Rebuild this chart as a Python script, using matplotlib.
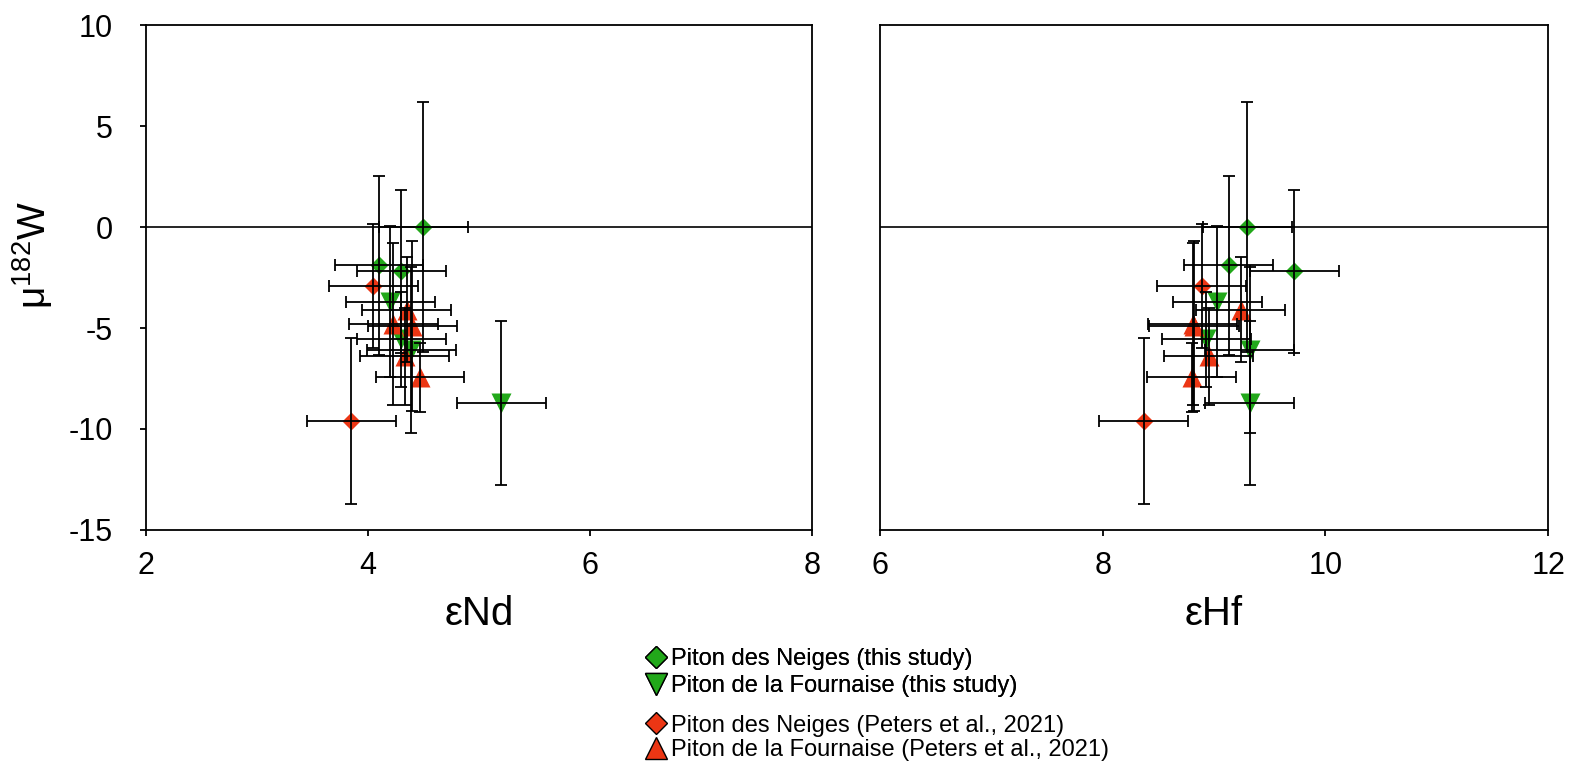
import numpy as np
import matplotlib
matplotlib.use("Agg")
import matplotlib.pyplot as plt
from matplotlib.lines import Line2D

plt.rcParams['font.family'] = ['Liberation Sans', 'DejaVu Sans']
plt.rcParams['axes.unicode_minus'] = False

# Piton des Neiges (this study)
pdn_end = [4.5, 4.1, 4.3]
pdn_ehf = [9.3, 9.13, 9.72]
pdn_w = [0.0, -1.9, -2.2]
pdn_werr = [6.2, 4.45, 4.05]
pdn_xerr = [0.4, 0.4, 0.4]

# Piton de la Fournaise (this study)
pdf_end = [4.2, 4.3, 4.39, 5.2]
pdf_ehf = [9.03, 8.93, 9.32, 9.32]
pdf_w = [-3.7, -5.55, -6.1, -8.7]
pdf_werr = [3.75, 2.35, 4.1, 4.05]
pdf_xerr = [0.4, 0.4, 0.4, 0.4]

# Piton des Neiges (Peters et al., 2021)
ppdn_end = [4.05, 3.85]
ppdn_ehf = [8.89, 8.37]
ppdn_w = [-2.92, -9.6]
ppdn_werr = [3.05, 4.1]
ppdn_xerr = [0.4, 0.4]

# Piton de la Fournaise (Peters et al., 2021)
ppdf_end = [4.35, 4.23, 4.40, 4.33, 4.47]
ppdf_ehf = [9.24, 8.81, 8.82, 8.95, 8.80]
ppdf_w = [-4.1, -4.8, -4.9, -6.4, -7.45]
ppdf_werr = [2.6, 4.0, 4.2, 2.4, 1.7]
ppdf_xerr = [0.4, 0.4, 0.4, 0.4, 0.4]

green = '#22a81a'
red = '#ec3614'

groups = [
    (pdn_end, pdn_ehf, pdn_w, pdn_werr, pdn_xerr, 'D', green, 9, 'Piton des Neiges (this study)'),
    (pdf_end, pdf_ehf, pdf_w, pdf_werr, pdf_xerr, 'v', green, 14, 'Piton de la Fournaise (this study)'),
    (ppdn_end, ppdn_ehf, ppdn_w, ppdn_werr, ppdn_xerr, 'D', red, 9, 'Piton des Neiges (Peters et al., 2021)'),
    (ppdf_end, ppdf_ehf, ppdf_w, ppdf_werr, ppdf_xerr, '^', red, 14, 'Piton de la Fournaise (Peters et al., 2021)'),
]

fig = plt.figure(figsize=(15.71, 7.70), dpi=100)
ax1 = fig.add_axes([0.0929, 0.3117, 0.4239, 0.6558])
ax2 = fig.add_axes([0.5602, 0.3117, 0.4252, 0.6558])

for ax, xi, xlim, xlabel in [(ax1, 0, (2, 8), 'εNd'), (ax2, 1, (6, 12), 'εHf')]:
    ax.axhline(0, color='black', lw=1.2, zorder=1)
    for g in groups:
        x = g[xi]
        ax.plot(x, g[2], ls='none', marker=g[5], color=g[6], ms=g[7], mec='none', zorder=2)
        ax.errorbar(x, g[2], xerr=g[4], yerr=g[3], fmt='none', ecolor='black',
                    elinewidth=1.3, capsize=4, capthick=1.3, zorder=3)
    ax.set_xlim(*xlim)
    ax.set_ylim(-15, 10)
    ax.set_xticks(np.arange(xlim[0], xlim[1] + 1, 2))
    ax.set_yticks(np.arange(-15, 11, 5))
    ax.tick_params(direction='out', length=4, width=1.3, labelsize=22)
    ax.tick_params(axis='x', pad=11)
    ax.tick_params(axis='y', pad=20)
    for s in ax.spines.values():
        s.set_linewidth(1.3)
    ax.set_xlabel(xlabel, fontsize=29, labelpad=10)

ax1.set_ylabel(r'μ$^{\mathregular{182}}$W', fontsize=28)
ax1.yaxis.set_label_coords(-0.137, 0.545)
ax2.tick_params(axis='y', left=False, labelleft=False)

def handle(g):
    return Line2D([], [], ls='none', marker=g[5], color=g[6], mec='black', mew=1.0,
                  ms=g[7] * 1.3 if g[5] == 'D' else g[7] * 1.1)

leg1 = fig.legend([handle(g) for g in groups[:2]], [g[8] for g in groups[:2]],
                  loc='upper left', bbox_to_anchor=(0.410, 0.158), frameon=False,
                  fontsize=17, handletextpad=0.15, handlelength=1.0, labelspacing=0.2,
                  borderaxespad=0, borderpad=0)
fig.add_artist(leg1)
fig.legend([handle(g) for g in groups[2:]], [g[8] for g in groups[2:]],
           loc='upper left', bbox_to_anchor=(0.410, 0.072), frameon=False,
           fontsize=17, handletextpad=0.15, handlelength=1.0, labelspacing=0.12,
           borderaxespad=0, borderpad=0)

fig.savefig('out.png', dpi=100)
